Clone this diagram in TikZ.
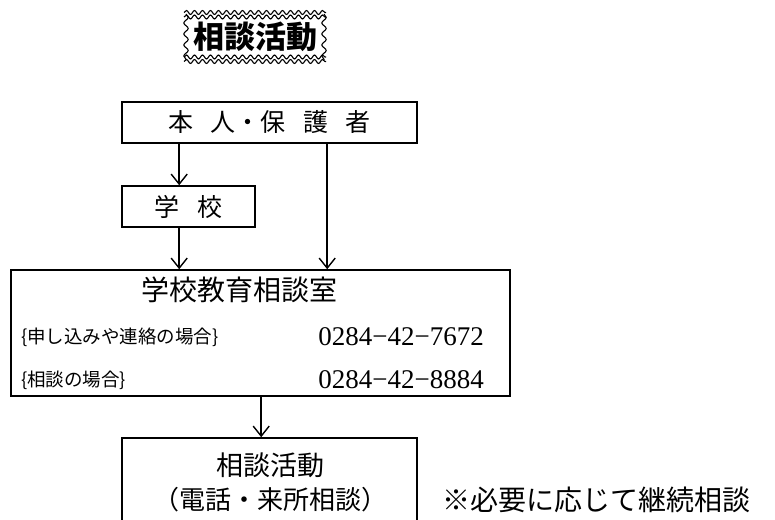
\documentclass[tikz,border=0pt]{standalone}
\usepackage{fontspec}
\newfontfamily\jp{Noto Sans CJK JP}
\newfontfamily\numfont{Liberation Serif}
\usetikzlibrary{arrows.meta,decorations.pathmorphing}
\begin{document}
\begin{tikzpicture}[x=1pt,y=-1pt,
  box/.style={draw,line width=1.6pt,inner sep=0pt},
  conn/.style={line width=1.5pt,-{Straight Barb[length=10pt,width=16pt,line width=1.4pt]}},
  wave/.style={decorate,decoration={snake,amplitude=2pt,segment length=8pt},line width=1.1pt},
  swave/.style={decorate,decoration={snake,amplitude=2.2pt,segment length=11pt},line width=1.1pt},
  txt/.style={inner sep=0pt,font=\jp\fontsize{25}{25}\selectfont},
  small/.style={inner sep=0pt,font=\jp\fontsize{18.5}{18.5}\selectfont},
  num/.style={inner sep=0pt,font=\numfont\fontsize{27}{27}\selectfont}]
\useasboundingbox (0,0) rectangle (775,519);
\clip (0,0) rectangle (775,519);
% title
\draw[wave] (184,12.5) -- (326,12.5);
\draw[wave] (184,17) -- (326,17);
\draw[wave] (184,57) -- (326,57);
\draw[wave] (184,61.5) -- (326,61.5);
\draw[swave] (186,14) -- (186,60);
\draw[swave] (324,14) -- (324,60);
\node[inner sep=0pt,font=\jp\bfseries\fontsize{31}{31}\selectfont] (title) at (255,37) {相談活動};
% boxes
\node[box,minimum width=295pt,minimum height=41pt] (p1) at (269.5,122.5) {};
\node[txt] (p1t) at (p1.center) {本\hspace{0.7em}人・保\hspace{0.7em}護\hspace{0.7em}者};
\node[box,minimum width=133pt,minimum height=41pt] (school) at (188.5,206.5) {};
\node[txt] (schoolt) at (school.center) {学\hspace{0.7em}校};
\node[box,minimum width=499pt,minimum height=126pt] (office) at (260.5,333) {};
\node[inner sep=0pt,font=\jp\fontsize{28}{28}\selectfont] (officet) at (239,290) {学校教育相談室};
\node[small,anchor=west] (l1) at (21,337) {\{申し込みや連絡の場合\}};
\node[num,anchor=east] (n1) at (484,337) {0284−42−7672};
\node[small,anchor=west] (l2) at (21,380) {\{相談の場合\}};
\node[num,anchor=east] (n2) at (484,380) {0284−42−8884};
\node[box,minimum width=295pt,minimum height=110pt] (act) at (269.5,493) {};
\node[txt,font=\jp\fontsize{27}{27}\selectfont] (act1) at (270,465) {相談活動};
\node[txt,font=\jp\fontsize{26}{26}\selectfont] (act2) at (270,500) {（電話・来所相談）};
\node[txt,font=\jp\fontsize{28}{28}\selectfont,anchor=west] (note) at (442,500) {※必要に応じて継続相談};
% connectors
\draw[conn] ([xshift=58pt]p1.south west) -- ([xshift=58pt]p1.south west |- school.north);
\draw[conn] ([xshift=58pt]school.south west) -- ([xshift=58pt]school.south west |- office.north);
\draw[conn] ([xshift=206pt]p1.south west) -- ([xshift=206pt]p1.south west |- office.north);
\draw[conn] ([xshift=251pt]office.south west) -- ([xshift=251pt]office.south west |- act.north);
\end{tikzpicture}
\end{document}
